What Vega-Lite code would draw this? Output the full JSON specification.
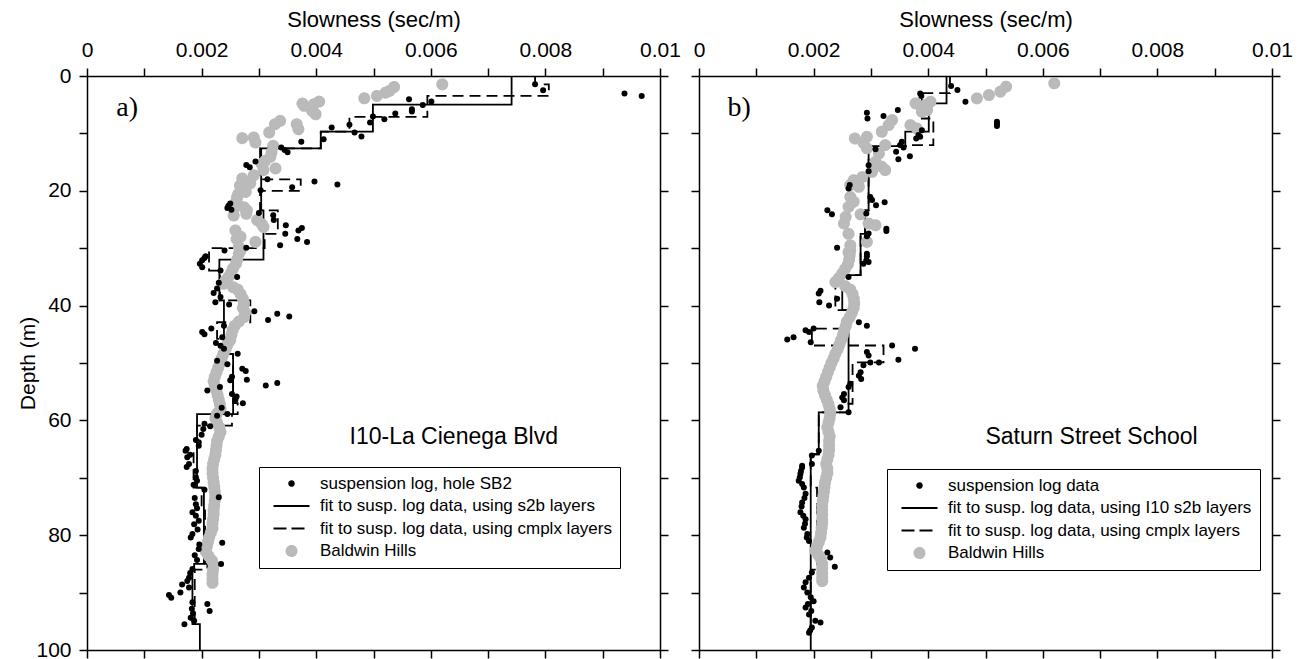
{
  "$schema": "https://vega.github.io/schema/vega-lite/v6.json",
  "padding": {"left": 17, "top": 8, "right": 5, "bottom": 5},
  "config": {
    "font": "Liberation Sans",
    "view": {"stroke": null},
    "axis": {
      "grid": false, "domainColor": "black", "domainWidth": 1.5, "tickColor": "black", "tickWidth": 1.5, "tickSize": 8,
      "labelColor": "black", "labelFontSize": 21, "labelFont": "Liberation Sans", "labelFlush": false, "labelOverlap": false, "labelPadding": 8,
      "titleFont": "Liberation Sans", "titleFontSize": 22, "titleFontWeight": "normal", "titleColor": "black", "titlePadding": 8
    },
    "legend": {
      "title": null, "orient": "none", "strokeColor": "black", "padding": 8, "labelFontSize": 17, "labelFont": "Liberation Sans", "labelColor": "black",
      "labelLimit": 500, "rowPadding": 4.5, "labelOffset": 20, "symbolOffset": 16, "symbolStrokeWidth": 2
    }
  },
  "spacing": 39,
  "bounds": "flush",
  "resolve": {"scale": {"fill": "independent", "stroke": "independent", "shape": "independent", "strokeDash": "independent"}},
  "datasets": {
    "A": [
      {"s":"fit1","i":1,"x":0.00741,"d":0},{"s":"fit1","i":2,"x":0.00741,"d":5.0},{"s":"fit1","i":3,"x":0.00499,"d":5.0},{"s":"fit1","i":4,"x":0.00499,"d":9.7},
      {"s":"fit1","i":5,"x":0.00408,"d":9.7},{"s":"fit1","i":6,"x":0.00408,"d":12.6},{"s":"fit1","i":7,"x":0.00304,"d":12.6},{"s":"fit1","i":8,"x":0.00304,"d":23.4},
      {"s":"fit1","i":9,"x":0.00308,"d":23.4},{"s":"fit1","i":10,"x":0.00308,"d":32.0},{"s":"fit1","i":11,"x":0.00231,"d":32.0},{"s":"fit1","i":12,"x":0.00231,"d":39.1},
      {"s":"fit1","i":13,"x":0.00239,"d":39.1},{"s":"fit1","i":14,"x":0.00239,"d":48.4},{"s":"fit1","i":15,"x":0.00255,"d":48.4},{"s":"fit1","i":16,"x":0.00255,"d":58.9},
      {"s":"fit1","i":17,"x":0.00192,"d":58.9},{"s":"fit1","i":18,"x":0.00192,"d":71.7},{"s":"fit1","i":19,"x":0.00204,"d":71.7},{"s":"fit1","i":20,"x":0.00204,"d":85.0},
      {"s":"fit1","i":21,"x":0.00187,"d":85.0},{"s":"fit1","i":22,"x":0.00187,"d":86.0},{"s":"fit1","i":23,"x":0.00184,"d":86.0},{"s":"fit1","i":24,"x":0.00184,"d":95.5},
      {"s":"fit1","i":25,"x":0.00197,"d":95.5},{"s":"fit1","i":26,"x":0.00197,"d":100},
      {"s":"fit2","i":1,"x":0.00782,"d":0},{"s":"fit2","i":2,"x":0.00782,"d":1.45},{"s":"fit2","i":3,"x":0.00806,"d":1.45},{"s":"fit2","i":4,"x":0.00806,"d":3.47},
      {"s":"fit2","i":5,"x":0.00594,"d":3.47},{"s":"fit2","i":6,"x":0.00594,"d":7.12},{"s":"fit2","i":7,"x":0.00458,"d":7.12},{"s":"fit2","i":8,"x":0.00458,"d":9.7},
      {"s":"fit2","i":9,"x":0.00408,"d":9.7},{"s":"fit2","i":10,"x":0.00408,"d":12.6},{"s":"fit2","i":11,"x":0.00302,"d":12.6},{"s":"fit2","i":12,"x":0.00302,"d":18.0},
      {"s":"fit2","i":13,"x":0.00373,"d":18.0},{"s":"fit2","i":14,"x":0.00373,"d":20.0},{"s":"fit2","i":15,"x":0.00302,"d":20.0},{"s":"fit2","i":16,"x":0.00302,"d":23.4},
      {"s":"fit2","i":17,"x":0.00333,"d":23.4},{"s":"fit2","i":18,"x":0.00333,"d":27.5},{"s":"fit2","i":19,"x":0.0031,"d":27.5},{"s":"fit2","i":20,"x":0.0031,"d":30.0},
      {"s":"fit2","i":21,"x":0.00213,"d":30.0},{"s":"fit2","i":22,"x":0.00213,"d":33.9},{"s":"fit2","i":23,"x":0.00232,"d":33.9},{"s":"fit2","i":24,"x":0.00232,"d":39.1},
      {"s":"fit2","i":25,"x":0.00285,"d":39.1},{"s":"fit2","i":26,"x":0.00285,"d":42.9},{"s":"fit2","i":27,"x":0.00227,"d":42.9},{"s":"fit2","i":28,"x":0.00227,"d":45.8},
      {"s":"fit2","i":29,"x":0.00242,"d":45.8},{"s":"fit2","i":30,"x":0.00242,"d":48.4},{"s":"fit2","i":31,"x":0.00255,"d":48.4},{"s":"fit2","i":32,"x":0.00255,"d":57.0},
      {"s":"fit2","i":33,"x":0.00263,"d":57.0},{"s":"fit2","i":34,"x":0.00263,"d":58.9},{"s":"fit2","i":35,"x":0.00253,"d":58.9},{"s":"fit2","i":36,"x":0.00253,"d":60.9},
      {"s":"fit2","i":37,"x":0.00192,"d":60.9},{"s":"fit2","i":38,"x":0.00192,"d":65.3},{"s":"fit2","i":39,"x":0.00186,"d":65.3},{"s":"fit2","i":40,"x":0.00186,"d":71.7},
      {"s":"fit2","i":41,"x":0.002,"d":71.7},{"s":"fit2","i":42,"x":0.002,"d":75.7},{"s":"fit2","i":43,"x":0.00206,"d":75.7},{"s":"fit2","i":44,"x":0.00206,"d":85.0},
      {"s":"fit2","i":45,"x":0.0021,"d":85.0},{"s":"fit2","i":46,"x":0.0021,"d":86.0},{"s":"fit2","i":47,"x":0.00188,"d":86.0},{"s":"fit2","i":48,"x":0.00188,"d":95.5},
      {"s":"pts","x":0.00782,"d":1.45},{"s":"pts","x":0.00796,"d":2.49},{"s":"pts","x":0.00938,"d":3.07},{"s":"pts","x":0.00968,"d":3.47},{"s":"pts","x":0.00601,"d":4.46},
      {"s":"pts","x":0.00586,"d":5.04},{"s":"pts","x":0.00562,"d":4.05},{"s":"pts","x":0.00567,"d":5.79},{"s":"pts","x":0.00567,"d":6.2},{"s":"pts","x":0.00538,"d":6.54},
      {"s":"pts","x":0.00519,"d":7.53},{"s":"pts","x":0.00499,"d":7.06},{"s":"pts","x":0.00494,"d":8.1},{"s":"pts","x":0.00458,"d":8.5},{"s":"pts","x":0.00467,"d":9.84},
      {"s":"pts","x":0.00479,"d":10.54},{"s":"pts","x":0.00427,"d":8.98},{"s":"pts","x":0.00413,"d":11.0},{"s":"pts","x":0.00374,"d":11.46},{"s":"pts","x":0.0035,"d":13.3},
      {"s":"pts","x":0.00345,"d":12.9},{"s":"pts","x":0.00339,"d":12.45},{"s":"pts","x":0.00294,"d":14.9},{"s":"pts","x":0.00278,"d":15.5},{"s":"pts","x":0.00284,"d":15.9},
      {"s":"pts","x":0.00315,"d":18.0},{"s":"pts","x":0.00358,"d":19.4},{"s":"pts","x":0.00397,"d":18.4},{"s":"pts","x":0.00437,"d":18.9},{"s":"pts","x":0.00303,"d":19.9},
      {"s":"pts","x":0.0025,"d":22.2},{"s":"pts","x":0.00247,"d":22.6},{"s":"pts","x":0.00245,"d":23.0},{"s":"pts","x":0.00252,"d":23.3},{"s":"pts","x":0.003,"d":23.85},
      {"s":"pts","x":0.00325,"d":24.25},{"s":"pts","x":0.00326,"d":25.1},{"s":"pts","x":0.00347,"d":26.0},{"s":"pts","x":0.00346,"d":27.5},{"s":"pts","x":0.00337,"d":29.5},
      {"s":"pts","x":0.00369,"d":26.9},{"s":"pts","x":0.00375,"d":26.5},{"s":"pts","x":0.00367,"d":28.4},{"s":"pts","x":0.00384,"d":28.9},{"s":"pts","x":0.00278,"d":29.9},
      {"s":"pts","x":0.0024,"d":30.4},{"s":"pts","x":0.00207,"d":31.4},{"s":"pts","x":0.00201,"d":32.1},{"s":"pts","x":0.00197,"d":32.7},{"s":"pts","x":0.00201,"d":33.3},
      {"s":"pts","x":0.00205,"d":31.7},{"s":"pts","x":0.00233,"d":33.9},{"s":"pts","x":0.00262,"d":35.0},{"s":"pts","x":0.0023,"d":36.0},{"s":"pts","x":0.00227,"d":37.0},
      {"s":"pts","x":0.00221,"d":37.8},{"s":"pts","x":0.00224,"d":39.4},{"s":"pts","x":0.00233,"d":38.5},{"s":"pts","x":0.00248,"d":39.8},{"s":"pts","x":0.00292,"d":41.0},
      {"s":"pts","x":0.00316,"d":42.5},{"s":"pts","x":0.00332,"d":41.4},{"s":"pts","x":0.00353,"d":41.9},{"s":"pts","x":0.00201,"d":44.6},{"s":"pts","x":0.00205,"d":45.0},
      {"s":"pts","x":0.00217,"d":44.0},{"s":"pts","x":0.00239,"d":43.5},{"s":"pts","x":0.00236,"d":45.5},{"s":"pts","x":0.00225,"d":46.5},{"s":"pts","x":0.00233,"d":47.0},
      {"s":"pts","x":0.00239,"d":47.5},{"s":"pts","x":0.00263,"d":48.4},{"s":"pts","x":0.00227,"d":49.6},{"s":"pts","x":0.00245,"d":50.2},{"s":"pts","x":0.00271,"d":51.0},
      {"s":"pts","x":0.00277,"d":51.4},{"s":"pts","x":0.00279,"d":52.9},{"s":"pts","x":0.00253,"d":52.4},{"s":"pts","x":0.0025,"d":53.0},{"s":"pts","x":0.00312,"d":53.9},
      {"s":"pts","x":0.00332,"d":53.5},{"s":"pts","x":0.0021,"d":54.8},{"s":"pts","x":0.00232,"d":54.2},{"s":"pts","x":0.00253,"d":55.4},{"s":"pts","x":0.00261,"d":55.85},
      {"s":"pts","x":0.00259,"d":56.4},{"s":"pts","x":0.00272,"d":57.0},{"s":"pts","x":0.00235,"d":57.8},{"s":"pts","x":0.00245,"d":58.9},{"s":"pts","x":0.00227,"d":59.2},
      {"s":"pts","x":0.00205,"d":60.6},{"s":"pts","x":0.00215,"d":61.0},{"s":"pts","x":0.00203,"d":61.5},{"s":"pts","x":0.002,"d":62.5},{"s":"pts","x":0.0019,"d":63.4},
      {"s":"pts","x":0.00195,"d":63.8},{"s":"pts","x":0.00195,"d":64.4},{"s":"pts","x":0.00174,"d":65.0},{"s":"pts","x":0.00172,"d":65.3},{"s":"pts","x":0.0018,"d":66.0},
      {"s":"pts","x":0.00175,"d":66.4},{"s":"pts","x":0.00178,"d":67.6},{"s":"pts","x":0.00174,"d":68.1},{"s":"pts","x":0.0019,"d":68.8},{"s":"pts","x":0.0019,"d":69.9},
      {"s":"pts","x":0.00192,"d":70.5},{"s":"pts","x":0.00186,"d":71.2},{"s":"pts","x":0.00205,"d":72.1},{"s":"pts","x":0.0023,"d":73.4},{"s":"pts","x":0.00188,"d":73.5},
      {"s":"pts","x":0.0019,"d":74.6},{"s":"pts","x":0.00192,"d":75.3},{"s":"pts","x":0.00184,"d":76.0},{"s":"pts","x":0.0019,"d":76.6},{"s":"pts","x":0.00195,"d":77.5},
      {"s":"pts","x":0.00187,"d":78.1},{"s":"pts","x":0.00193,"d":79.0},{"s":"pts","x":0.00184,"d":79.8},{"s":"pts","x":0.00181,"d":80.4},{"s":"pts","x":0.00236,"d":81.3},
      {"s":"pts","x":0.00196,"d":81.6},{"s":"pts","x":0.00195,"d":82.4},{"s":"pts","x":0.00188,"d":83.5},{"s":"pts","x":0.00192,"d":84.3},{"s":"pts","x":0.00234,"d":85.0},
      {"s":"pts","x":0.00184,"d":85.9},{"s":"pts","x":0.0018,"d":86.6},{"s":"pts","x":0.00178,"d":87.4},{"s":"pts","x":0.00175,"d":88.0},{"s":"pts","x":0.00166,"d":88.6},
      {"s":"pts","x":0.00178,"d":89.1},{"s":"pts","x":0.00163,"d":90.0},{"s":"pts","x":0.00143,"d":90.4},{"s":"pts","x":0.00147,"d":90.9},{"s":"pts","x":0.00184,"d":91.7},
      {"s":"pts","x":0.0021,"d":92.0},{"s":"pts","x":0.00183,"d":92.8},{"s":"pts","x":0.00214,"d":93.2},{"s":"pts","x":0.00185,"d":93.6},{"s":"pts","x":0.00181,"d":94.4},
      {"s":"pts","x":0.00187,"d":94.9},{"s":"pts","x":0.0017,"d":95.5},
      {"s":"bh","x":0.0062,"d":1.45},{"s":"bh","x":0.00536,"d":1.91},{"s":"bh","x":0.00528,"d":2.6},{"s":"bh","x":0.00521,"d":2.9},{"s":"bh","x":0.00506,"d":3.47},
      {"s":"bh","x":0.00484,"d":3.88},{"s":"bh","x":0.00405,"d":4.46},{"s":"bh","x":0.00396,"d":4.92},{"s":"bh","x":0.00376,"d":4.8},{"s":"bh","x":0.00379,"d":5.2},
      {"s":"bh","x":0.00393,"d":6.08},{"s":"bh","x":0.00399,"d":6.66},{"s":"bh","x":0.00337,"d":7.82},{"s":"bh","x":0.00328,"d":8.4},{"s":"bh","x":0.00366,"d":8.4},
      {"s":"bh","x":0.00369,"d":9.27},{"s":"bh","x":0.00318,"d":9.84},{"s":"bh","x":0.00271,"d":10.83},{"s":"bh","x":0.00291,"d":10.71},{"s":"bh","x":0.00294,"d":11.58},
      {"s":"bh","x":0.00325,"d":12.16},{"s":"bh","x":0.00322,"d":13.3},{"s":"bh","x":0.0032,"d":14.1},{"s":"bh","x":0.00311,"d":14.77},{"s":"bh","x":0.00305,"d":15.34},
      {"s":"bh","x":0.00329,"d":16.1},{"s":"bh","x":0.00308,"d":16.4},{"s":"bh","x":0.00291,"d":17.3},{"s":"bh","x":0.00271,"d":17.85},{"s":"bh","x":0.00285,"d":18.7},
      {"s":"bh","x":0.00267,"d":19.1},{"s":"bh","x":0.00277,"d":20.2},{"s":"bh","x":0.00264,"d":20.56},{"s":"bh","x":0.00262,"d":21.1},{"s":"bh","x":0.00261,"d":21.7},
      {"s":"bh","x":0.00259,"d":22.8},{"s":"bh","x":0.00274,"d":22.87},{"s":"bh","x":0.00279,"d":23.4},{"s":"bh","x":0.00278,"d":24.0},{"s":"bh","x":0.00256,"d":24.3},
      {"s":"bh","x":0.00297,"d":25.1},{"s":"bh","x":0.00305,"d":25.8},{"s":"bh","x":0.00308,"d":26.3},{"s":"bh","x":0.00259,"d":26.9},{"s":"bh","x":0.00268,"d":28.0},
      {"s":"bh","x":0.00261,"d":28.4},{"s":"bh","x":0.00294,"d":28.9},{"s":"bh","x":0.00265,"d":29.8},{"s":"bh","x":0.00268,"d":30.4},{"s":"bh","x":0.00265,"d":31.0},
      {"s":"bh","x":0.00262,"d":32.0},{"s":"bh","x":0.0026,"d":32.7},{"s":"bh","x":0.00255,"d":33.5},{"s":"bh","x":0.00252,"d":34.2},{"s":"bh","x":0.00247,"d":35.0},
      {"s":"bh","x":0.00242,"d":35.6},{"s":"bh","x":0.00238,"d":36.2},{"s":"bh","x":0.00255,"d":36.8},{"s":"bh","x":0.00263,"d":37.2},{"s":"bh","x":0.00268,"d":38.0},
      {"s":"bh","x":0.00272,"d":38.8},{"s":"bh","x":0.00274,"d":39.6},{"s":"bh","x":0.00272,"d":40.4},{"s":"bh","x":0.00276,"d":41.2},{"s":"bh","x":0.00274,"d":42.0},
      {"s":"bh","x":0.00265,"d":42.8},{"s":"bh","x":0.00258,"d":43.5},{"s":"bh","x":0.00254,"d":44.3},{"s":"bh","x":0.00252,"d":45.1},{"s":"bh","x":0.0025,"d":46.0},
      {"s":"bh","x":0.00245,"d":46.8},{"s":"bh","x":0.00242,"d":47.6},{"s":"bh","x":0.00238,"d":48.4},{"s":"bh","x":0.00235,"d":49.2},{"s":"bh","x":0.00232,"d":50.0},
      {"s":"bh","x":0.00229,"d":50.8},{"s":"bh","x":0.00226,"d":51.6},{"s":"bh","x":0.00223,"d":52.4},{"s":"bh","x":0.00221,"d":53.2},{"s":"bh","x":0.00223,"d":54.0},
      {"s":"bh","x":0.00226,"d":54.8},{"s":"bh","x":0.00228,"d":55.6},{"s":"bh","x":0.0023,"d":56.4},{"s":"bh","x":0.00232,"d":57.2},{"s":"bh","x":0.00233,"d":58.0},
      {"s":"bh","x":0.00227,"d":58.8},{"s":"bh","x":0.00224,"d":59.6},{"s":"bh","x":0.00227,"d":60.4},{"s":"bh","x":0.00231,"d":61.2},{"s":"bh","x":0.00233,"d":62.0},
      {"s":"bh","x":0.0023,"d":62.8},{"s":"bh","x":0.00227,"d":63.6},{"s":"bh","x":0.00226,"d":64.4},{"s":"bh","x":0.00225,"d":65.2},{"s":"bh","x":0.00224,"d":66.0},
      {"s":"bh","x":0.00222,"d":66.8},{"s":"bh","x":0.0022,"d":67.6},{"s":"bh","x":0.00219,"d":68.4},{"s":"bh","x":0.00219,"d":69.2},{"s":"bh","x":0.0022,"d":70.0},
      {"s":"bh","x":0.00221,"d":70.8},{"s":"bh","x":0.00222,"d":71.6},{"s":"bh","x":0.00223,"d":72.4},{"s":"bh","x":0.00224,"d":73.2},{"s":"bh","x":0.00223,"d":74.0},
      {"s":"bh","x":0.00222,"d":74.8},{"s":"bh","x":0.00221,"d":75.6},{"s":"bh","x":0.00221,"d":76.4},{"s":"bh","x":0.0022,"d":77.2},{"s":"bh","x":0.00219,"d":78.0},
      {"s":"bh","x":0.00219,"d":78.8},{"s":"bh","x":0.00216,"d":79.6},{"s":"bh","x":0.00213,"d":80.4},{"s":"bh","x":0.00211,"d":81.2},{"s":"bh","x":0.00209,"d":82.0},
      {"s":"bh","x":0.00207,"d":82.8},{"s":"bh","x":0.00212,"d":83.6},{"s":"bh","x":0.00218,"d":84.4},{"s":"bh","x":0.00221,"d":85.2},{"s":"bh","x":0.0022,"d":86.0},
      {"s":"bh","x":0.00219,"d":86.8},{"s":"bh","x":0.00219,"d":87.6},{"s":"bh","x":0.00219,"d":88.3}
    ],
    "B": [
      {"s":"fit1","i":1,"x":0.00432,"d":0},{"s":"fit1","i":2,"x":0.00432,"d":4.77},{"s":"fit1","i":3,"x":0.00401,"d":4.77},{"s":"fit1","i":4,"x":0.00401,"d":9.7},
      {"s":"fit1","i":5,"x":0.0036,"d":9.7},{"s":"fit1","i":6,"x":0.0036,"d":12.2},{"s":"fit1","i":7,"x":0.00296,"d":12.2},{"s":"fit1","i":8,"x":0.00296,"d":23.4},
      {"s":"fit1","i":9,"x":0.0029,"d":23.4},{"s":"fit1","i":10,"x":0.0029,"d":27.5},{"s":"fit1","i":11,"x":0.00282,"d":27.5},{"s":"fit1","i":12,"x":0.00282,"d":34.7},
      {"s":"fit1","i":13,"x":0.0025,"d":34.7},{"s":"fit1","i":14,"x":0.0025,"d":40.8},{"s":"fit1","i":15,"x":0.00261,"d":40.8},{"s":"fit1","i":16,"x":0.00261,"d":58.6},
      {"s":"fit1","i":17,"x":0.00209,"d":58.6},{"s":"fit1","i":18,"x":0.00209,"d":65.9},{"s":"fit1","i":19,"x":0.00195,"d":65.9},{"s":"fit1","i":20,"x":0.00195,"d":100},
      {"s":"fit2","i":1,"x":0.00438,"d":0},{"s":"fit2","i":2,"x":0.00438,"d":3.0},{"s":"fit2","i":3,"x":0.00389,"d":3.0},{"s":"fit2","i":4,"x":0.00389,"d":7.4},
      {"s":"fit2","i":5,"x":0.00409,"d":7.4},{"s":"fit2","i":6,"x":0.00409,"d":12.04},{"s":"fit2","i":7,"x":0.00366,"d":12.04},{"s":"fit2","i":8,"x":0.00366,"d":12.2},
      {"s":"fit2","i":9,"x":0.00296,"d":12.2},{"s":"fit2","i":10,"x":0.00296,"d":23.4},{"s":"fit2","i":11,"x":0.0029,"d":23.4},{"s":"fit2","i":12,"x":0.0029,"d":27.5},
      {"s":"fit2","i":13,"x":0.00282,"d":27.5},{"s":"fit2","i":14,"x":0.00282,"d":34.7},{"s":"fit2","i":15,"x":0.00238,"d":34.7},{"s":"fit2","i":16,"x":0.00238,"d":40.8},
      {"s":"fit2","i":17,"x":0.00261,"d":40.8},{"s":"fit2","i":18,"x":0.00261,"d":44.0},{"s":"fit2","i":19,"x":0.00197,"d":44.0},{"s":"fit2","i":20,"x":0.00197,"d":46.95},
      {"s":"fit2","i":21,"x":0.00322,"d":46.95},{"s":"fit2","i":22,"x":0.00322,"d":49.9},{"s":"fit2","i":23,"x":0.00268,"d":49.9},{"s":"fit2","i":24,"x":0.00268,"d":57.1},
      {"s":"fit2","i":25,"x":0.00261,"d":57.1},{"s":"fit2","i":26,"x":0.00261,"d":58.6},{"s":"fit2","i":27,"x":0.00209,"d":58.6},{"s":"fit2","i":28,"x":0.00209,"d":65.9},
      {"s":"fit2","i":29,"x":0.00195,"d":65.9},{"s":"fit2","i":30,"x":0.00195,"d":71.7},{"s":"fit2","i":31,"x":0.00206,"d":71.7},{"s":"fit2","i":32,"x":0.00206,"d":86.0},
      {"s":"fit2","i":33,"x":0.00195,"d":86.0},{"s":"fit2","i":34,"x":0.00195,"d":97.0},
      {"s":"pts","x":0.0044,"d":1.75},{"s":"pts","x":0.00451,"d":2.44},{"s":"pts","x":0.00386,"d":3.03},{"s":"pts","x":0.00388,"d":3.49},{"s":"pts","x":0.00465,"d":4.48},
      {"s":"pts","x":0.00293,"d":6.4},{"s":"pts","x":0.00294,"d":7.39},{"s":"pts","x":0.00322,"d":6.98},{"s":"pts","x":0.00347,"d":5.93},{"s":"pts","x":0.0052,"d":7.97},
      {"s":"pts","x":0.0052,"d":8.35},{"s":"pts","x":0.0052,"d":8.73},{"s":"pts","x":0.00389,"d":9.43},{"s":"pts","x":0.00383,"d":10.3},{"s":"pts","x":0.00379,"d":10.9},
      {"s":"pts","x":0.00386,"d":10.59},{"s":"pts","x":0.00354,"d":11.46},{"s":"pts","x":0.00351,"d":12.04},{"s":"pts","x":0.00357,"d":12.45},{"s":"pts","x":0.00308,"d":12.74},
      {"s":"pts","x":0.00344,"d":13.2},{"s":"pts","x":0.00348,"d":14.49},{"s":"pts","x":0.00368,"d":13.96},{"s":"pts","x":0.00296,"d":15.53},{"s":"pts","x":0.00296,"d":16.6},
      {"s":"pts","x":0.00263,"d":19.0},{"s":"pts","x":0.00261,"d":19.6},{"s":"pts","x":0.00299,"d":21.06},{"s":"pts","x":0.00302,"d":21.6},{"s":"pts","x":0.00309,"d":22.5},
      {"s":"pts","x":0.00324,"d":22.0},{"s":"pts","x":0.00224,"d":23.4},{"s":"pts","x":0.00232,"d":24.1},{"s":"pts","x":0.00292,"d":23.97},{"s":"pts","x":0.00327,"d":26.6},
      {"s":"pts","x":0.00327,"d":27.0},{"s":"pts","x":0.00296,"d":27.45},{"s":"pts","x":0.00293,"d":27.9},{"s":"pts","x":0.00241,"d":29.9},{"s":"pts","x":0.00293,"d":30.95},
      {"s":"pts","x":0.00293,"d":31.4},{"s":"pts","x":0.00292,"d":32.1},{"s":"pts","x":0.00296,"d":32.4},{"s":"pts","x":0.00287,"d":32.7},{"s":"pts","x":0.00261,"d":35.0},
      {"s":"pts","x":0.00212,"d":37.4},{"s":"pts","x":0.00209,"d":37.9},{"s":"pts","x":0.0021,"d":39.4},{"s":"pts","x":0.00227,"d":40.0},{"s":"pts","x":0.00241,"d":38.8},
      {"s":"pts","x":0.00279,"d":42.9},{"s":"pts","x":0.00293,"d":43.5},{"s":"pts","x":0.00186,"d":44.3},{"s":"pts","x":0.002,"d":44.0},{"s":"pts","x":0.00192,"d":44.6},
      {"s":"pts","x":0.00165,"d":45.5},{"s":"pts","x":0.00154,"d":45.9},{"s":"pts","x":0.00195,"d":46.4},{"s":"pts","x":0.00337,"d":46.95},{"s":"pts","x":0.00377,"d":47.5},
      {"s":"pts","x":0.00348,"d":49.45},{"s":"pts","x":0.00293,"d":48.1},{"s":"pts","x":0.00296,"d":48.7},{"s":"pts","x":0.00299,"d":49.9},{"s":"pts","x":0.00314,"d":49.9},
      {"s":"pts","x":0.00287,"d":50.4},{"s":"pts","x":0.00282,"d":51.6},{"s":"pts","x":0.00279,"d":52.2},{"s":"pts","x":0.00283,"d":52.8},{"s":"pts","x":0.00264,"d":53.6},
      {"s":"pts","x":0.00261,"d":54.2},{"s":"pts","x":0.00253,"d":55.4},{"s":"pts","x":0.0025,"d":56.0},{"s":"pts","x":0.00253,"d":56.5},{"s":"pts","x":0.00247,"d":57.7},
      {"s":"pts","x":0.00261,"d":58.6},{"s":"pts","x":0.00209,"d":65.3},{"s":"pts","x":0.00197,"d":66.1},{"s":"pts","x":0.00197,"d":67.6},{"s":"pts","x":0.0018,"d":67.9},
      {"s":"pts","x":0.0018,"d":68.2},{"s":"pts","x":0.00178,"d":68.8},{"s":"pts","x":0.00177,"d":69.3},{"s":"pts","x":0.00176,"d":69.9},{"s":"pts","x":0.00174,"d":70.5},
      {"s":"pts","x":0.0018,"d":71.1},{"s":"pts","x":0.00183,"d":71.7},{"s":"pts","x":0.00186,"d":72.8},{"s":"pts","x":0.00184,"d":73.5},{"s":"pts","x":0.0018,"d":74.3},
      {"s":"pts","x":0.00179,"d":75.0},{"s":"pts","x":0.00177,"d":76.0},{"s":"pts","x":0.00182,"d":76.6},{"s":"pts","x":0.00186,"d":77.2},{"s":"pts","x":0.00185,"d":78.0},
      {"s":"pts","x":0.00183,"d":78.7},{"s":"pts","x":0.00189,"d":79.8},{"s":"pts","x":0.00188,"d":80.4},{"s":"pts","x":0.00192,"d":81.0},{"s":"pts","x":0.00224,"d":83.0},
      {"s":"pts","x":0.00229,"d":83.9},{"s":"pts","x":0.00237,"d":85.5},{"s":"pts","x":0.00197,"d":86.5},{"s":"pts","x":0.00192,"d":87.4},{"s":"pts","x":0.00186,"d":88.2},
      {"s":"pts","x":0.00183,"d":89.1},{"s":"pts","x":0.00189,"d":90.0},{"s":"pts","x":0.00195,"d":90.8},{"s":"pts","x":0.002,"d":91.5},{"s":"pts","x":0.0019,"d":92.0},
      {"s":"pts","x":0.00186,"d":92.6},{"s":"pts","x":0.00196,"d":93.2},{"s":"pts","x":0.00192,"d":93.8},{"s":"pts","x":0.00203,"d":94.9},{"s":"pts","x":0.00212,"d":95.2},
      {"s":"pts","x":0.00197,"d":96.1},{"s":"pts","x":0.00194,"d":96.6},{"s":"pts","x":0.00192,"d":97.0},
      {"s":"bh","x":0.0062,"d":1.28},{"s":"bh","x":0.00536,"d":1.86},{"s":"bh","x":0.00526,"d":2.73},{"s":"bh","x":0.00506,"d":3.32},{"s":"bh","x":0.00485,"d":3.9},
      {"s":"bh","x":0.00404,"d":4.48},{"s":"bh","x":0.00395,"d":5.06},{"s":"bh","x":0.00378,"d":4.77},{"s":"bh","x":0.00389,"d":6.22},{"s":"bh","x":0.00398,"d":5.93},
      {"s":"bh","x":0.00369,"d":8.55},{"s":"bh","x":0.0038,"d":9.13},{"s":"bh","x":0.00337,"d":7.68},{"s":"bh","x":0.00331,"d":8.55},{"s":"bh","x":0.00319,"d":9.71},
      {"s":"bh","x":0.00293,"d":10.59},{"s":"bh","x":0.00272,"d":10.88},{"s":"bh","x":0.00287,"d":11.64},{"s":"bh","x":0.00293,"d":12.6},{"s":"bh","x":0.00325,"d":12.04},
      {"s":"bh","x":0.00314,"d":13.5},{"s":"bh","x":0.00308,"d":14.95},{"s":"bh","x":0.00319,"d":15.8},{"s":"bh","x":0.00325,"d":16.4},{"s":"bh","x":0.00302,"d":16.7},
      {"s":"bh","x":0.00285,"d":17.6},{"s":"bh","x":0.0027,"d":18.15},{"s":"bh","x":0.00264,"d":19.0},{"s":"bh","x":0.00279,"d":19.3},{"s":"bh","x":0.00264,"d":21.06},
      {"s":"bh","x":0.0027,"d":21.9},{"s":"bh","x":0.00261,"d":22.8},{"s":"bh","x":0.00256,"d":24.55},{"s":"bh","x":0.00253,"d":25.7},{"s":"bh","x":0.00282,"d":24.1},
      {"s":"bh","x":0.00296,"d":25.7},{"s":"bh","x":0.00308,"d":26.0},{"s":"bh","x":0.00261,"d":27.5},{"s":"bh","x":0.00264,"d":29.5},{"s":"bh","x":0.00293,"d":28.9},
      {"s":"bh","x":0.00261,"d":30.7},{"s":"bh","x":0.00264,"d":30.4},{"s":"bh","x":0.00263,"d":31.2},{"s":"bh","x":0.00262,"d":32.0},{"s":"bh","x":0.0026,"d":32.8},
      {"s":"bh","x":0.00255,"d":33.6},{"s":"bh","x":0.0025,"d":34.4},{"s":"bh","x":0.00244,"d":35.2},{"s":"bh","x":0.00238,"d":35.9},{"s":"bh","x":0.00255,"d":36.6},
      {"s":"bh","x":0.00264,"d":37.2},{"s":"bh","x":0.00268,"d":38.0},{"s":"bh","x":0.0027,"d":38.8},{"s":"bh","x":0.00271,"d":39.6},{"s":"bh","x":0.0027,"d":40.4},
      {"s":"bh","x":0.00267,"d":41.2},{"s":"bh","x":0.00263,"d":42.0},{"s":"bh","x":0.00258,"d":42.8},{"s":"bh","x":0.00256,"d":43.6},{"s":"bh","x":0.00253,"d":44.4},
      {"s":"bh","x":0.00251,"d":45.2},{"s":"bh","x":0.00248,"d":46.0},{"s":"bh","x":0.00245,"d":46.8},{"s":"bh","x":0.00242,"d":47.6},{"s":"bh","x":0.00238,"d":48.4},
      {"s":"bh","x":0.00235,"d":49.2},{"s":"bh","x":0.00231,"d":50.0},{"s":"bh","x":0.00228,"d":50.8},{"s":"bh","x":0.00225,"d":51.6},{"s":"bh","x":0.00222,"d":52.4},
      {"s":"bh","x":0.00219,"d":53.2},{"s":"bh","x":0.00216,"d":54.0},{"s":"bh","x":0.00217,"d":54.8},{"s":"bh","x":0.0022,"d":55.6},{"s":"bh","x":0.00223,"d":56.4},
      {"s":"bh","x":0.00226,"d":57.2},{"s":"bh","x":0.00228,"d":58.0},{"s":"bh","x":0.00229,"d":58.8},{"s":"bh","x":0.00228,"d":59.6},{"s":"bh","x":0.00226,"d":60.4},
      {"s":"bh","x":0.00224,"d":61.2},{"s":"bh","x":0.00226,"d":62.0},{"s":"bh","x":0.00228,"d":62.8},{"s":"bh","x":0.00227,"d":63.6},{"s":"bh","x":0.00227,"d":64.4},
      {"s":"bh","x":0.00227,"d":65.2},{"s":"bh","x":0.00226,"d":66.0},{"s":"bh","x":0.00224,"d":66.8},{"s":"bh","x":0.00222,"d":67.6},{"s":"bh","x":0.00224,"d":68.4},
      {"s":"bh","x":0.00224,"d":69.2},{"s":"bh","x":0.00222,"d":70.0},{"s":"bh","x":0.0022,"d":70.8},{"s":"bh","x":0.00219,"d":71.6},{"s":"bh","x":0.00218,"d":72.4},
      {"s":"bh","x":0.00217,"d":73.2},{"s":"bh","x":0.00216,"d":74.0},{"s":"bh","x":0.00215,"d":74.8},{"s":"bh","x":0.00215,"d":75.6},{"s":"bh","x":0.00215,"d":76.4},
      {"s":"bh","x":0.00215,"d":77.2},{"s":"bh","x":0.00215,"d":78.0},{"s":"bh","x":0.00214,"d":78.8},{"s":"bh","x":0.00213,"d":79.6},{"s":"bh","x":0.00212,"d":80.4},
      {"s":"bh","x":0.00209,"d":81.2},{"s":"bh","x":0.00206,"d":82.0},{"s":"bh","x":0.00203,"d":82.7},{"s":"bh","x":0.00208,"d":83.4},{"s":"bh","x":0.00213,"d":84.2},
      {"s":"bh","x":0.00215,"d":85.0},{"s":"bh","x":0.00215,"d":85.8},{"s":"bh","x":0.00215,"d":86.6},{"s":"bh","x":0.00215,"d":87.4},{"s":"bh","x":0.00215,"d":88.0}
    ]
  },
  "hconcat": [
    {
      "width": 573, "height": 574,
      "data": {"name": "A"},
      "resolve": {"axis": {"x": "independent", "y": "independent"}},
      "layer": [
        {
          "transform": [{"filter": "datum.s == 'fit1'"}],
          "mark": {"type": "line", "color": "black", "strokeWidth": 1.8},
          "encoding": {
            "x": {"field": "x", "type": "quantitative", "scale": {"domain": [0, 0.01], "nice": false, "zero": false},
                  "axis": {"orient": "top", "title": "Slowness (sec/m)", "values": [0,0.001,0.002,0.003,0.004,0.005,0.006,0.007,0.008,0.009,0.01],
                           "labelExpr": "round(datum.value*1000) % 2 == 0 ? format(datum.value, '~g') : ''"}},
            "y": {"field": "d", "type": "quantitative", "scale": {"domain": [0, 100], "reverse": true, "nice": false, "zero": false},
                  "axis": {"orient": "left", "title": "Depth (m)", "titleFontSize": 21, "titlePadding": -3, "values": [0,10,20,30,40,50,60,70,80,90,100], "labelExpr": "datum.value % 20 == 0 ? datum.label : ''"}},
            "order": {"field": "i", "type": "quantitative"}
          }
        },
        {
          "transform": [{"filter": "datum.s == 'fit2'"}],
          "mark": {"type": "line", "color": "black", "strokeWidth": 1.8, "strokeDash": [11, 6]},
          "encoding": {
            "x": {"field": "x", "type": "quantitative", "axis": {"orient": "bottom", "title": null, "labels": false, "values": [0,0.001,0.002,0.003,0.004,0.005,0.006,0.007,0.008,0.009,0.01]}},
            "y": {"field": "d", "type": "quantitative", "axis": {"orient": "right", "title": null, "labels": false, "values": [0,10,20,30,40,50,60,70,80,90,100]}},
            "order": {"field": "i", "type": "quantitative"}
          }
        },
        {
          "transform": [{"filter": "datum.s == 'bh'"}],
          "mark": {"type": "point", "filled": true, "size": 100, "strokeWidth": 2, "opacity": 1},
          "encoding": {
            "x": {"field": "x", "type": "quantitative", "axis": null},
            "y": {"field": "d", "type": "quantitative", "axis": null},
            "fill": {"field": "s", "type": "nominal",
              "scale": {"domain": ["pts", "fit1", "fit2", "bh"], "range": ["black", "transparent", "transparent", "#bababa"]},
              "legend": {"legendX": 172, "legendY": 391,
                "labelExpr": "datum.value == 'pts' ? 'suspension log, hole SB2' : datum.value == 'fit1' ? 'fit to susp. log data, using s2b layers' : datum.value == 'fit2' ? 'fit to susp. log data, using cmplx layers' : 'Baldwin Hills'"}},
            "stroke": {"field": "s", "type": "nominal",
              "scale": {"domain": ["pts", "fit1", "fit2", "bh"], "range": ["black", "black", "black", "#bababa"]},
              "legend": {"legendX": 172, "legendY": 391,
                "labelExpr": "datum.value == 'pts' ? 'suspension log, hole SB2' : datum.value == 'fit1' ? 'fit to susp. log data, using s2b layers' : datum.value == 'fit2' ? 'fit to susp. log data, using cmplx layers' : 'Baldwin Hills'"}},
            "shape": {"field": "s", "type": "nominal",
              "scale": {"domain": ["pts", "fit1", "fit2", "bh"], "range": ["M-0.45,0A0.45,0.45,0,1,0,0.45,0A0.45,0.45,0,1,0,-0.45,0Z", "M-3.6,0L3.6,0", "M-3.6,0L3.6,0", "circle"]},
              "legend": {"legendX": 172, "legendY": 391,
                "labelExpr": "datum.value == 'pts' ? 'suspension log, hole SB2' : datum.value == 'fit1' ? 'fit to susp. log data, using s2b layers' : datum.value == 'fit2' ? 'fit to susp. log data, using cmplx layers' : 'Baldwin Hills'"}},
            "strokeDash": {"field": "s", "type": "nominal",
              "scale": {"domain": ["pts", "fit1", "fit2", "bh"], "range": [[1, 0], [1, 0], [13, 5], [1, 0]]},
              "legend": {"legendX": 172, "legendY": 391,
                "labelExpr": "datum.value == 'pts' ? 'suspension log, hole SB2' : datum.value == 'fit1' ? 'fit to susp. log data, using s2b layers' : datum.value == 'fit2' ? 'fit to susp. log data, using cmplx layers' : 'Baldwin Hills'"}}
          }
        },
        {
          "transform": [{"filter": "datum.s == 'pts'"}],
          "mark": {"type": "point", "filled": true, "size": 36, "opacity": 1, "color": "black"},
          "encoding": {
            "x": {"field": "x", "type": "quantitative", "axis": null},
            "y": {"field": "d", "type": "quantitative", "axis": null}
          }
        },
        {
          "data": {"values": [{}]},
          "mark": {"type": "text", "font": "Liberation Serif", "fontSize": 28, "color": "black", "align": "center", "baseline": "middle"},
          "encoding": {"x": {"datum": 0.0007, "type": "quantitative", "axis": null}, "y": {"datum": 5.6, "type": "quantitative", "axis": null}, "text": {"value": "a)"}}
        },
        {
          "data": {"values": [{}]},
          "mark": {"type": "text", "font": "Liberation Sans", "fontSize": 23, "color": "black", "align": "center", "baseline": "middle"},
          "encoding": {"x": {"datum": 0.0064, "type": "quantitative", "axis": null}, "y": {"datum": 62.9, "type": "quantitative", "axis": null}, "text": {"value": "I10-La Cienega Blvd"}}
        }
      ]
    },
    {
      "width": 573, "height": 574,
      "data": {"name": "B"},
      "resolve": {"axis": {"x": "independent", "y": "independent"}},
      "layer": [
        {
          "transform": [{"filter": "datum.s == 'fit1'"}],
          "mark": {"type": "line", "color": "black", "strokeWidth": 1.8},
          "encoding": {
            "x": {"field": "x", "type": "quantitative", "scale": {"domain": [0, 0.01], "nice": false, "zero": false},
                  "axis": {"orient": "top", "title": "Slowness (sec/m)", "values": [0,0.001,0.002,0.003,0.004,0.005,0.006,0.007,0.008,0.009,0.01],
                           "labelExpr": "round(datum.value*1000) % 2 == 0 ? format(datum.value, '~g') : ''"}},
            "y": {"field": "d", "type": "quantitative", "scale": {"domain": [0, 100], "reverse": true, "nice": false, "zero": false},
                  "axis": {"orient": "left", "title": null, "labels": false, "values": [0,10,20,30,40,50,60,70,80,90,100]}},
            "order": {"field": "i", "type": "quantitative"}
          }
        },
        {
          "transform": [{"filter": "datum.s == 'fit2'"}],
          "mark": {"type": "line", "color": "black", "strokeWidth": 1.8, "strokeDash": [11, 6]},
          "encoding": {
            "x": {"field": "x", "type": "quantitative", "axis": {"orient": "bottom", "title": null, "labels": false, "values": [0,0.001,0.002,0.003,0.004,0.005,0.006,0.007,0.008,0.009,0.01]}},
            "y": {"field": "d", "type": "quantitative", "axis": {"orient": "right", "title": null, "labels": false, "values": [0,10,20,30,40,50,60,70,80,90,100]}},
            "order": {"field": "i", "type": "quantitative"}
          }
        },
        {
          "transform": [{"filter": "datum.s == 'bh'"}],
          "mark": {"type": "point", "filled": true, "size": 100, "strokeWidth": 2, "opacity": 1},
          "encoding": {
            "x": {"field": "x", "type": "quantitative", "axis": null},
            "y": {"field": "d", "type": "quantitative", "axis": null},
            "fill": {"field": "s", "type": "nominal",
              "scale": {"domain": ["pts", "fit1", "fit2", "bh"], "range": ["black", "transparent", "transparent", "#bababa"]},
              "legend": {"legendX": 188, "legendY": 393,
                "labelExpr": "datum.value == 'pts' ? 'suspension log data' : datum.value == 'fit1' ? 'fit to susp. log data, using I10 s2b layers' : datum.value == 'fit2' ? 'fit to susp. log data, using cmplx layers' : 'Baldwin Hills'"}},
            "stroke": {"field": "s", "type": "nominal",
              "scale": {"domain": ["pts", "fit1", "fit2", "bh"], "range": ["black", "black", "black", "#bababa"]},
              "legend": {"legendX": 188, "legendY": 393,
                "labelExpr": "datum.value == 'pts' ? 'suspension log data' : datum.value == 'fit1' ? 'fit to susp. log data, using I10 s2b layers' : datum.value == 'fit2' ? 'fit to susp. log data, using cmplx layers' : 'Baldwin Hills'"}},
            "shape": {"field": "s", "type": "nominal",
              "scale": {"domain": ["pts", "fit1", "fit2", "bh"], "range": ["M-0.45,0A0.45,0.45,0,1,0,0.45,0A0.45,0.45,0,1,0,-0.45,0Z", "M-3.6,0L3.6,0", "M-3.6,0L3.6,0", "circle"]},
              "legend": {"legendX": 188, "legendY": 393,
                "labelExpr": "datum.value == 'pts' ? 'suspension log data' : datum.value == 'fit1' ? 'fit to susp. log data, using I10 s2b layers' : datum.value == 'fit2' ? 'fit to susp. log data, using cmplx layers' : 'Baldwin Hills'"}},
            "strokeDash": {"field": "s", "type": "nominal",
              "scale": {"domain": ["pts", "fit1", "fit2", "bh"], "range": [[1, 0], [1, 0], [13, 5], [1, 0]]},
              "legend": {"legendX": 188, "legendY": 393,
                "labelExpr": "datum.value == 'pts' ? 'suspension log data' : datum.value == 'fit1' ? 'fit to susp. log data, using I10 s2b layers' : datum.value == 'fit2' ? 'fit to susp. log data, using cmplx layers' : 'Baldwin Hills'"}}
          }
        },
        {
          "transform": [{"filter": "datum.s == 'pts'"}],
          "mark": {"type": "point", "filled": true, "size": 36, "opacity": 1, "color": "black"},
          "encoding": {
            "x": {"field": "x", "type": "quantitative", "axis": null},
            "y": {"field": "d", "type": "quantitative", "axis": null}
          }
        },
        {
          "data": {"values": [{}]},
          "mark": {"type": "text", "font": "Liberation Serif", "fontSize": 28, "color": "black", "align": "center", "baseline": "middle"},
          "encoding": {"x": {"datum": 0.0007, "type": "quantitative", "axis": null}, "y": {"datum": 5.6, "type": "quantitative", "axis": null}, "text": {"value": "b)"}}
        },
        {
          "data": {"values": [{}]},
          "mark": {"type": "text", "font": "Liberation Sans", "fontSize": 23, "color": "black", "align": "center", "baseline": "middle"},
          "encoding": {"x": {"datum": 0.00685, "type": "quantitative", "axis": null}, "y": {"datum": 62.9, "type": "quantitative", "axis": null}, "text": {"value": "Saturn Street School"}}
        }
      ]
    }
  ]
}
